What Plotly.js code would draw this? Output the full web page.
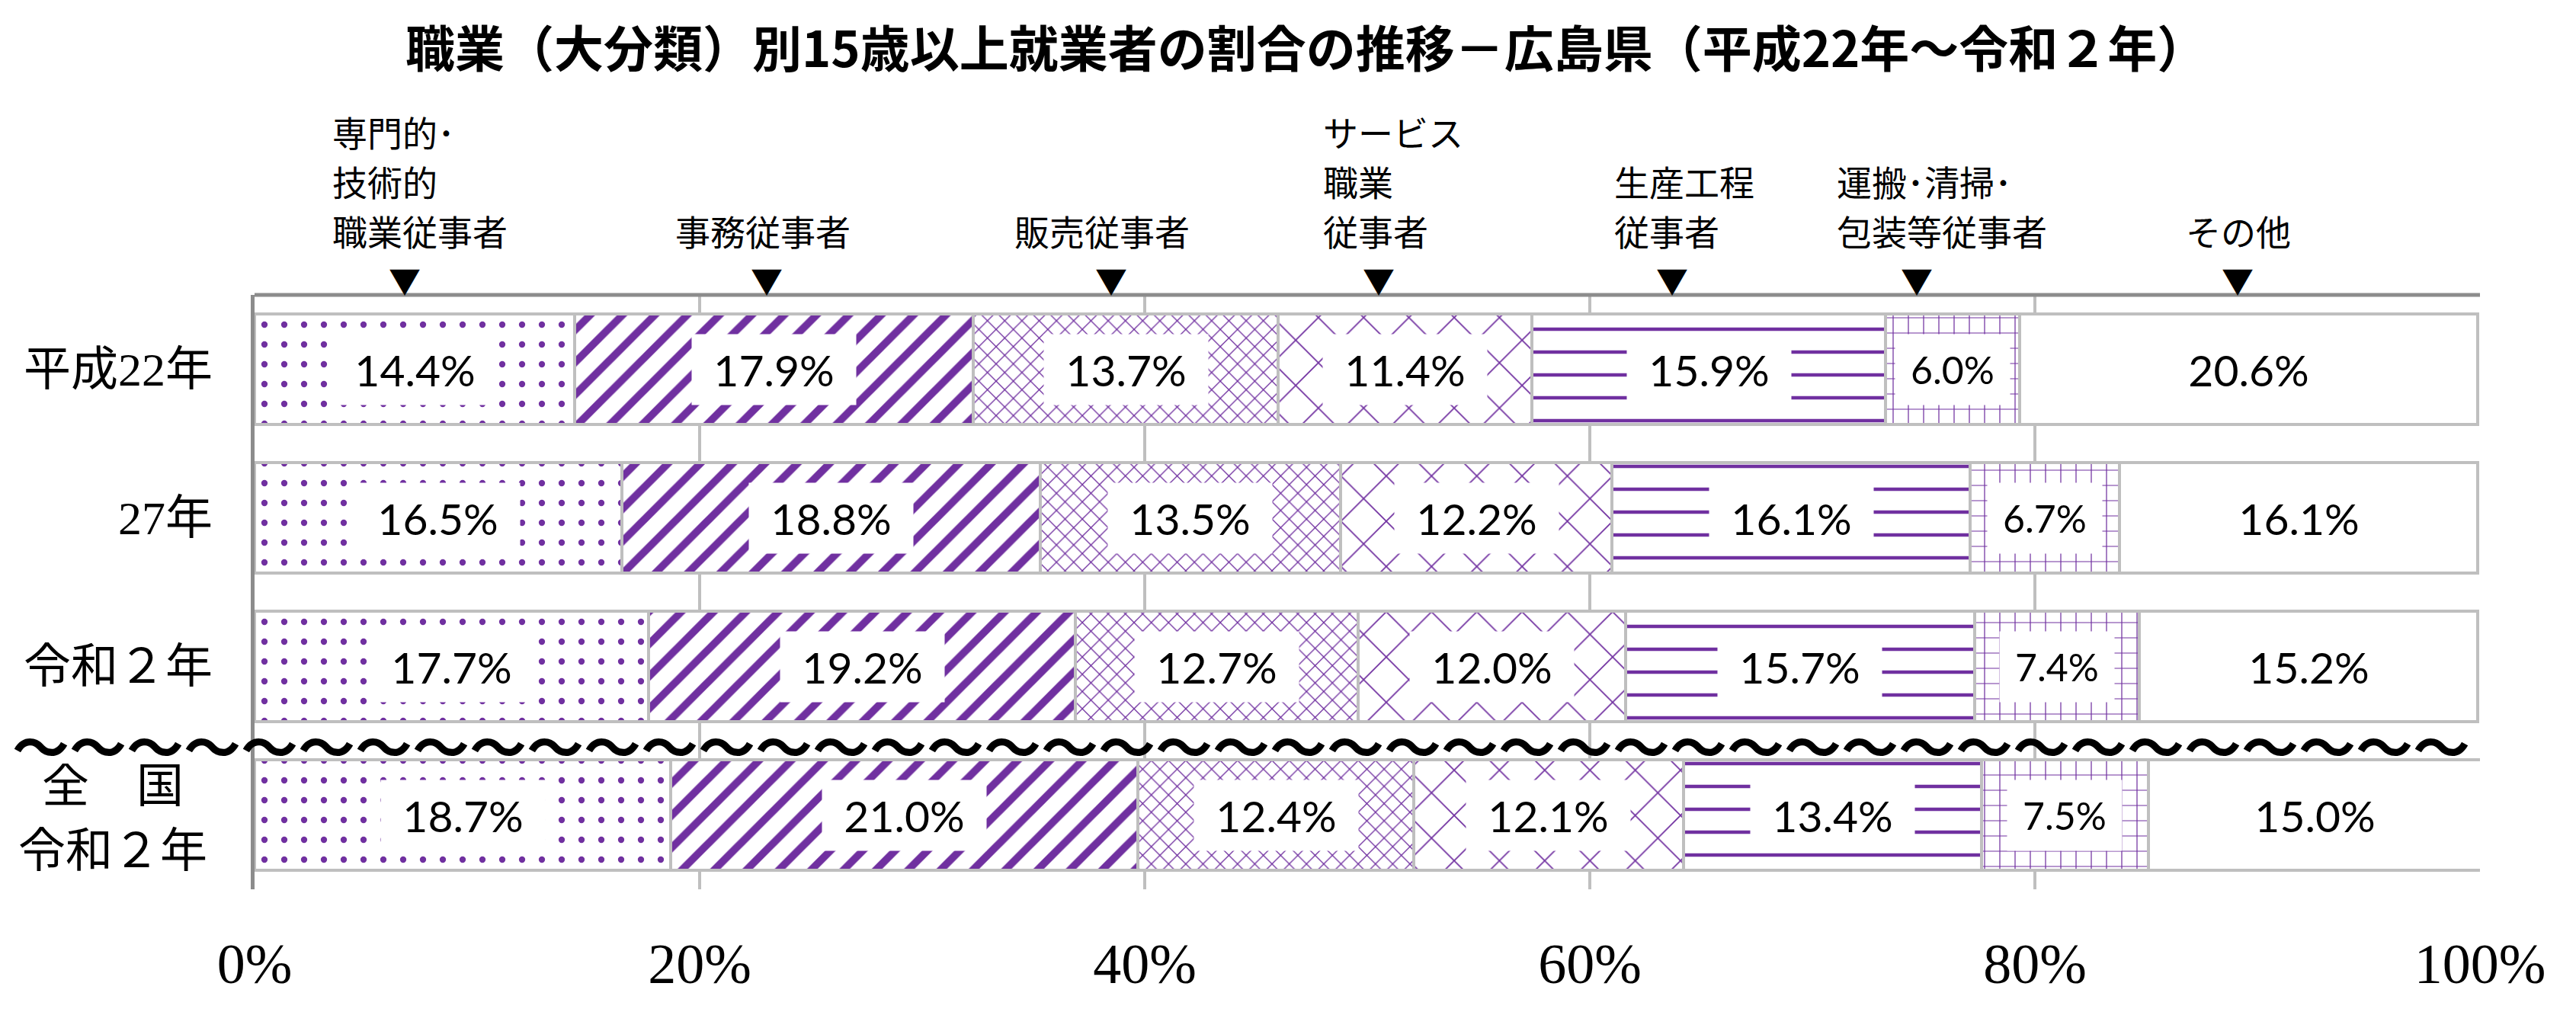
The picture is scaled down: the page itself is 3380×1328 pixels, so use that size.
<!DOCTYPE html>
<html>
<head>
<meta charset="utf-8">
<script src="https://cdn.plot.ly/plotly-3.0.1.min.js"></script>
<style>
html,body{margin:0;padding:0;background:#ffffff;}
#chart{width:3380px;height:1328px;}
</style>
</head>
<body>
<div id="chart"></div>
<script>
// ---------------- DATA ----------------
const rowLabels = ["平成22年", "27年", "令和２年", "全　国<br>令和２年"];
const occupations = [
  "専門的・技術的職業従事者", "事務従事者", "販売従事者", "サービス職業従事者",
  "生産工程従事者", "運搬・清掃・包装等従事者", "その他"
];
const headerLines = [
  ["専門的･", "技術的", "職業従事者"],
  ["事務従事者"],
  ["販売従事者"],
  ["サービス", "職業", "従事者"],
  ["生産工程", "従事者"],
  ["運搬･清掃･", "包装等従事者"],
  ["その他"]
];
const professional = [14.4, 16.5, 17.7, 18.7];
const clerical     = [17.9, 18.8, 19.2, 21.0];
const sales        = [13.7, 13.5, 12.7, 12.4];
const service      = [11.4, 12.2, 12.0, 12.1];
const production   = [15.9, 16.1, 15.7, 13.4];
const transport    = [6.0, 6.7, 7.4, 7.5];
const other        = [20.6, 16.1, 15.2, 15.0];
const xTickVals = [0, 20, 40, 60, 80, 100];
const xTickText = ["0%", "20%", "40%", "60%", "80%", "100%"];
const titleText = "職業（大分類）別15歳以上就業者の割合の推移－広島県（平成22年～令和２年）";
const breakMark = "～～～～～～～～～～～～～～～～～～～～～～～～～～～～～～～～～～～～～～～～～～～";

// ---------------- LAYOUT HELPERS ----------------
const W = 3380, H = 1328, L = 334, R = 126, T = 387, B = 161;
const plotW = W - L - R, plotH = H - T - B;
const pxToPaper = px => (px - L) / plotW;
const pyToPaper = py => (H - B - py) / plotH;

const series = [professional, clerical, sales, service, production, transport, other];
const purple = "#7030A0";
const patternStyles = [
  {shape: ".", size: 26, solidity: 0.08},
  {shape: "/", size: 30, solidity: 0.33},
  {shape: "x", size: 16, solidity: 0.16},
  {shape: "x", size: 42, solidity: 0.08},
  {shape: "-", size: 30, solidity: 0.15},
  {shape: "+", size: 20, solidity: 0.12},
  {shape: "", size: 10, solidity: 0.1}
];
// header label left edges and marker positions (in axis % units)
const headerLeft = [3.42, 18.84, 34.08, 47.95, 61.03, 71.03, 86.71];
const arrowPos   = [6.75, 23.0, 38.5, 50.5, 63.7, 74.7, 89.1];

// ---------------- TRACES ----------------
const traces = series.map((vals, i) => ({
  type: "bar",
  orientation: "h",
  name: occupations[i],
  x: vals,
  y: rowLabels,
  hoverinfo: "skip",
  textposition: "none",
  marker: {
    color: "#FFFFFF",
    line: {color: "#BFBFBF", width: 4},
    pattern: {
      shape: patternStyles[i].shape,
      fgcolor: purple,
      bgcolor: "#FFFFFF",
      size: patternStyles[i].size,
      solidity: patternStyles[i].solidity,
      fillmode: "replace"
    }
  }
}));

// ---------------- ANNOTATIONS ----------------
const annotations = [];

// data labels with white boxes
rowLabels.forEach((row, j) => {
  let cum = 0;
  series.forEach((vals, i) => {
    const v = vals[j];
    const small = v < 10;
    annotations.push({
      xref: "x", yref: "y",
      x: cum + v / 2, y: row,
      text: v.toFixed(1) + "%",
      showarrow: false,
      xanchor: "center", yanchor: "middle",
      bgcolor: "#FFFFFF",
      borderpad: 0,
      width: small ? 150 : 215,
      height: 92,
      font: {family: "Lato, Roboto, sans-serif", size: small ? 50 : 57, color: "#000000"}
    });
    cum += v;
  });
});

// row labels
rowLabels.forEach((row, j) => {
  const parts = row.split("<br>");
  if (parts.length === 1) {
    annotations.push({
      xref: "paper", yref: "y", x: pxToPaper(281), y: row,
      text: parts[0], showarrow: false, xanchor: "right", yanchor: "middle",
      font: {family: "Liberation Serif, Noto Sans CJK JP", size: 62, color: "#000000"}
    });
  } else {
    annotations.push({
      xref: "paper", yref: "y", x: pxToPaper(148), y: row, yshift: 38,
      text: parts[0], showarrow: false, xanchor: "center", yanchor: "middle",
      height: 60,
      font: {family: "Liberation Serif, Noto Sans CJK JP", size: 62, color: "#000000"}
    });
    annotations.push({
      xref: "paper", yref: "y", x: pxToPaper(148), y: row, yshift: -47,
      text: parts[1], showarrow: false, xanchor: "center", yanchor: "middle",
      height: 66,
      font: {family: "Liberation Serif, Noto Sans CJK JP", size: 62, color: "#000000"}
    });
  }
});

// header labels and markers
headerLines.forEach((lines, k) => {
  const n = lines.length;
  lines.forEach((line, li) => {
    const py = 302 - (n - 1 - li) * 65;
    annotations.push({
      xref: "x", yref: "paper", x: headerLeft[k], y: pyToPaper(py),
      text: line, showarrow: false, xanchor: "left", yanchor: "middle",
      font: {family: "Noto Sans CJK JP", size: 46, color: "#000000"}
    });
  });
  annotations.push({
    xref: "x", yref: "paper", x: arrowPos[k], y: pyToPaper(366),
    text: "▼", showarrow: false, xanchor: "center", yanchor: "middle",
    font: {family: "Noto Sans CJK JP", size: 42, color: "#000000"}
  });
});

// break mark between Hiroshima rows and national row
annotations.push({
  xref: "paper", yref: "paper", x: pxToPaper(1628), y: pyToPaper(976),
  text: breakMark, showarrow: false, xanchor: "center", yanchor: "middle",
  height: 40,
  font: {family: "Noto Sans CJK JP", size: 75, color: "#000000", weight: "bold"}
});

// ---------------- LAYOUT ----------------
const layout = {
  width: W, height: H,
  margin: {l: L, r: R, t: T, b: B, pad: 0},
  paper_bgcolor: "#FFFFFF",
  plot_bgcolor: "#FFFFFF",
  barmode: "stack",
  bargap: 0.26,
  showlegend: false,
  font: {family: "Noto Sans CJK JP", color: "#000000"},
  title: {
    text: titleText,
    font: {family: "Noto Sans CJK JP", size: 65, color: "#000000", weight: "bold"},
    xref: "container", yref: "container",
    x: 0.507, xanchor: "center",
    y: 0.951, yanchor: "middle"
  },
  xaxis: {
    range: [0, 100],
    tickvals: xTickVals,
    ticktext: xTickText,
    showgrid: true,
    gridcolor: "#BFBFBF",
    gridwidth: 4,
    zeroline: false,
    showline: false,
    ticks: "",
    ticklabelstandoff: 48,
    tickfont: {family: "Liberation Serif", size: 74, color: "#000000"},
    fixedrange: true
  },
  yaxis: {
    type: "category",
    range: [3.5, -0.5],
    showticklabels: false,
    showgrid: false,
    zeroline: false,
    showline: true,
    linecolor: "#8C8C8C",
    linewidth: 5,
    ticks: "",
    fixedrange: true
  },
  shapes: [
    {type: "line", xref: "paper", yref: "paper", x0: 0, x1: 1, y0: 1, y1: 1,
     line: {color: "#8C8C8C", width: 5}}
  ],
  annotations: annotations
};

Plotly.newPlot("chart", traces, layout, {staticPlot: true, displayModeBar: false});
</script>
</body>
</html>
